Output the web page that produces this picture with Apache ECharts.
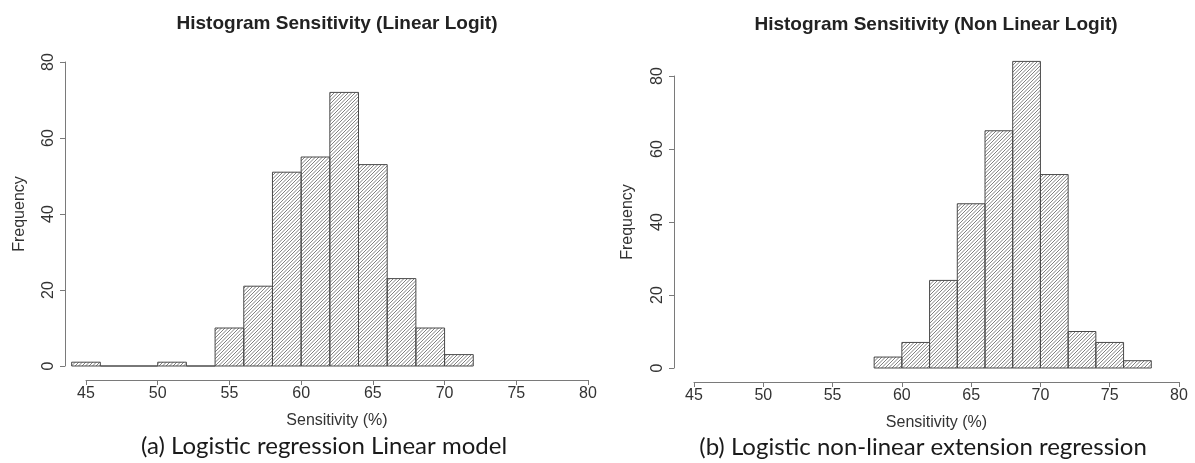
<!DOCTYPE html>
<html>
<head>
<meta charset="utf-8">
<script src="https://cdn.jsdelivr.net/npm/echarts@6/dist/echarts.min.js"></script>
<style>
  html, body { margin: 0; padding: 0; background: #ffffff; }
  #chart { width: 1195px; height: 463px; }
</style>
</head>
<body>
<div id="chart"></div>
<script>
// Histogram bin edges and counts (2-point wide bins)
const linearBreaks = [44, 46, 48, 50, 52, 54, 56, 58, 60, 62, 64, 66, 68, 70, 72];
const linearCounts = [1, 0, 0, 1, 0, 10, 21, 51, 55, 72, 53, 23, 10, 3];

const nonLinearBreaks = [58, 60, 62, 64, 66, 68, 70, 72, 74, 76, 78];
const nonLinearCounts = [3, 7, 24, 45, 65, 84, 53, 10, 7, 2];

// Axis ranges
const xRange = { min: 45, max: 80, step: 5 };
const yRange = { min: 0, max: 80, step: 20 };

// Texts
const panelTitles = ['Histogram Sensitivity (Linear Logit)', 'Histogram Sensitivity (Non Linear Logit)'];
const panelCaptions = ['(a) Logistic regression Linear model', '(b) Logistic non-linear extension regression'];
const xAxisName = 'Sensitivity (%)';
const yAxisName = 'Frequency';

function binRows(breaks, counts) {
  return counts.map((c, i) => [breaks[i], breaks[i + 1], c]);
}

// Diagonal hatch fill used for the bars
function makeHatch() {
  const t = 7, gap = 3.5;
  const cv = document.createElement('canvas');
  cv.width = t; cv.height = t;
  const ctx = cv.getContext('2d');
  ctx.strokeStyle = '#5f5f5f';
  ctx.lineWidth = 0.8;
  for (let k = -2 * t; k <= 2 * t; k += gap) {
    ctx.beginPath();
    ctx.moveTo(k, t);
    ctx.lineTo(k + t, 0);
    ctx.stroke();
  }
  return { image: cv, repeat: 'repeat' };
}
const hatch = makeHatch();

function renderBin(params, api) {
  const top = api.coord([api.value(0), api.value(2)]);
  const base = api.coord([api.value(1), 0]);
  return {
    type: 'rect',
    shape: { x: top[0], y: top[1], width: base[0] - top[0], height: base[1] - top[1] },
    style: { fill: hatch, stroke: '#4a4a4a', lineWidth: 1 }
  };
}

const FONT = 'Liberation Sans, Arial, Helvetica, sans-serif';
const axisColor = '#7a7a7a';
const textColor = '#333333';

function xAxisFor(gridIndex) {
  return {
    gridIndex, type: 'value', min: xRange.min, max: xRange.max, interval: xRange.step,
    offset: 14,
    axisLine: { show: true, onZero: false, lineStyle: { color: axisColor, width: 1 } },
    axisTick: { show: true, length: 5, lineStyle: { color: axisColor, width: 1 } },
    axisLabel: { fontSize: 16, color: textColor, margin: 6, fontFamily: FONT },
    splitLine: { show: false },
    name: xAxisName, nameLocation: 'middle', nameGap: 33,
    nameTextStyle: { fontSize: 16, color: textColor, fontFamily: FONT }
  };
}

function yAxisFor(gridIndex, offset, nameGap) {
  return {
    gridIndex, type: 'value', min: yRange.min, max: yRange.max, interval: yRange.step,
    offset: offset,
    axisLine: { show: true, onZero: false, lineStyle: { color: axisColor, width: 1 } },
    axisTick: { show: true, length: 5, lineStyle: { color: axisColor, width: 1 } },
    axisLabel: { fontSize: 16, color: textColor, margin: 8, rotate: 90, fontFamily: FONT },
    splitLine: { show: false },
    name: yAxisName, nameLocation: 'middle', nameRotate: 90, nameGap: nameGap,
    nameTextStyle: { fontSize: 16, color: textColor, fontFamily: FONT }
  };
}

function label(text, x, y, size, weight, family, color) {
  return {
    type: 'text', x: x, y: y, silent: true,
    style: {
      text: text, fontSize: size, fontWeight: weight, fontFamily: family, fill: color,
      align: 'center', verticalAlign: 'middle', textAlign: 'center', textVerticalAlign: 'middle'
    }
  };
}

const chart = echarts.init(document.getElementById('chart'), null, { renderer: 'canvas' });

chart.setOption({
  backgroundColor: '#ffffff',
  animation: false,
  grid: [
    { left: 86, width: 502, top: 62, height: 304, containLabel: false, outerBoundsMode: 'none' },
    { left: 694, width: 485, top: 76, height: 292, containLabel: false, outerBoundsMode: 'none' }
  ],
  xAxis: [xAxisFor(0), xAxisFor(1)],
  yAxis: [yAxisFor(0, 21, 37), yAxisFor(1, 20, 38)],
  series: [
    {
      type: 'custom', xAxisIndex: 0, yAxisIndex: 0, clip: false,
      renderItem: renderBin, encode: { x: [0, 1], y: 2 },
      data: binRows(linearBreaks, linearCounts)
    },
    {
      type: 'custom', xAxisIndex: 1, yAxisIndex: 1, clip: false,
      renderItem: renderBin, encode: { x: [0, 1], y: 2 },
      data: binRows(nonLinearBreaks, nonLinearCounts)
    }
  ],
  graphic: [
    label(panelTitles[0], 337, 24, 19, 'bold', FONT, '#222222'),
    label(panelTitles[1], 936, 25, 19, 'bold', FONT, '#222222'),
    label(panelCaptions[0], 324, 446, 24, 'normal', 'Lato, Open Sans, sans-serif', '#1a1a1a'),
    label(panelCaptions[1], 923, 447, 24, 'normal', 'Lato, Open Sans, sans-serif', '#1a1a1a')
  ]
});
</script>
</body>
</html>
